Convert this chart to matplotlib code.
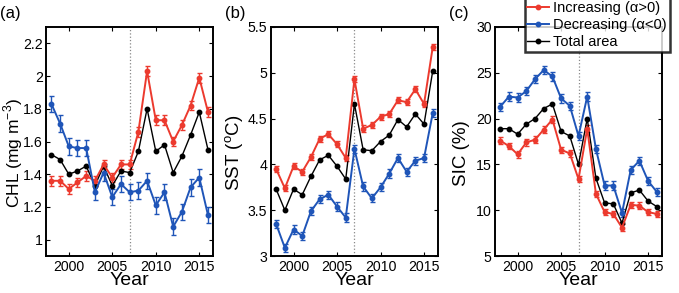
import matplotlib
matplotlib.use('Agg')
from matplotlib import pyplot as plt
from matplotlib.ticker import FormatStrFormatter
from matplotlib.lines import Line2D
import numpy as np

plt.rcParams['font.family'] = ['Liberation Sans', 'DejaVu Sans']
plt.rcParams['mathtext.fontset'] = 'custom'
plt.rcParams['mathtext.rm'] = 'Liberation Sans'

years = np.arange(1998, 2017)

# (a) CHL
chl_inc = [1.36, 1.36, 1.31, 1.35, 1.39, 1.36, 1.46, 1.38, 1.46, 1.46,
           1.66, 2.03, 1.73, 1.73, 1.60, 1.70, 1.82, 1.99, 1.78]
chl_dec = [1.83, 1.71, 1.57, 1.56, 1.56, 1.29, 1.41, 1.26, 1.34, 1.29,
           1.30, 1.36, 1.21, 1.29, 1.08, 1.17, 1.32, 1.38, 1.15]
chl_tot = [1.52, 1.49, 1.40, 1.42, 1.45, 1.33, 1.45, 1.33, 1.42, 1.41,
           1.54, 1.80, 1.54, 1.58, 1.41, 1.51, 1.64, 1.78, 1.55]

# (b) SST
sst_inc = [3.95, 3.74, 3.98, 3.92, 4.08, 4.28, 4.33, 4.22, 4.07, 4.93,
           4.39, 4.43, 4.52, 4.55, 4.70, 4.68, 4.82, 4.66, 5.28]
sst_dec = [3.35, 3.09, 3.29, 3.22, 3.49, 3.62, 3.67, 3.54, 3.42, 4.17,
           3.76, 3.63, 3.75, 3.90, 4.07, 3.92, 4.04, 4.07, 4.56]
sst_tot = [3.73, 3.50, 3.73, 3.67, 3.87, 4.05, 4.10, 3.98, 3.84, 4.66,
           4.16, 4.15, 4.25, 4.32, 4.49, 4.41, 4.55, 4.44, 5.02]

# (c) SIC
sic_inc = [17.6, 17.0, 16.1, 17.4, 17.7, 18.8, 19.9, 16.6, 16.2, 13.4,
           18.9, 11.8, 9.8, 9.6, 8.1, 10.6, 10.5, 9.8, 9.6]
sic_dec = [21.3, 22.4, 22.3, 23.0, 24.3, 25.3, 24.6, 22.2, 21.4, 18.1,
           22.4, 16.7, 12.7, 12.7, 9.7, 14.4, 15.4, 13.2, 12.0]
sic_tot = [18.9, 18.9, 18.3, 19.4, 20.0, 21.1, 21.6, 18.6, 18.1, 15.0,
           20.0, 13.5, 10.8, 10.7, 8.6, 11.9, 12.2, 11.0, 10.4]

# error bar half widths (inc, dec)
chl_err = (0.03, 0.05)
sst_err = (0.035, 0.045)
sic_err = (0.35, 0.45)

panels = [
    ('(a)', 'CHL (mg m$^{-3}$)', chl_inc, chl_dec, chl_tot, chl_err, (0.9, 2.3), [1, 1.2, 1.4, 1.6, 1.8, 2, 2.2]),
    ('(b)', 'SST ($^{\\rm o}$C)', sst_inc, sst_dec, sst_tot, sst_err, (3, 5.5), [3, 3.5, 4, 4.5, 5, 5.5]),
    ('(c)', 'SIC (%)', sic_inc, sic_dec, sic_tot, sic_err, (5, 30), [5, 10, 15, 20, 25, 30]),
]
legend_labels = ['Increasing (\u03b1>0)', 'Decreasing (\u03b1<0)', 'Total area']

red = '#ec3a2e'
blue = '#1f55b8'
lefts = [0.068, 0.399, 0.729]
label_x = [-0.2, -0.215, -0.2]   # y label positions (axes fraction)
label_fs = [12.5, 13.5, 13.5]

fig = plt.figure(figsize=(6.79, 2.93), dpi=100)
for k, (tag, ylab, inc, dec, tot, err, ylim, yt) in enumerate(panels):
    ax = fig.add_axes([lefts[k], 0.126, 0.246, 0.782])
    ax.axvline(2007, color='#888888', ls=':', lw=0.9, zorder=0)
    ax.errorbar(years, inc, yerr=err[0], color=red, marker='o', ms=3.2,
                lw=1.4, capsize=1.8, elinewidth=1.0)
    ax.errorbar(years, dec, yerr=err[1], color=blue, marker='o', ms=3.2,
                lw=1.4, capsize=1.8, elinewidth=1.0)
    ax.plot(years, tot, color='black', marker='o', ms=3.2, lw=1.0)
    ax.set_xlim(1997.4, 2016.6)
    ax.set_ylim(*ylim)
    ax.set_yticks(yt)
    ax.yaxis.set_major_formatter(FormatStrFormatter('%g'))
    ax.set_xticks([2000, 2005, 2010, 2015])
    ax.tick_params(direction='in', top=True, right=True, labelsize=10.2, length=3, width=0.8, pad=2.5)
    for s in ax.spines.values():
        s.set_linewidth(1.4)
    ax.set_xlabel('Year', fontsize=14, labelpad=-1)
    ax.set_ylabel(ylab, fontsize=label_fs[k], va='center')
    ax.yaxis.set_label_coords(label_x[k], 0.45)
    fig.text(lefts[k] - 0.068, 0.955, tag, fontsize=12, va='center', ha='left')
    if k == 2:
        handles = [Line2D([], [], color=c, marker='o', ms=3.2, lw=1.4 if c != 'black' else 1.0)
                   for c in (red, blue, 'black')]
        leg = ax.legend(handles, legend_labels, loc='upper right', bbox_to_anchor=(1.045, 1.125),
                        fontsize=10.5, frameon=True, fancybox=False, borderpad=0.2,
                        labelspacing=0.2, handlelength=1.5, handletextpad=0.25,
                        borderaxespad=0)
        leg.get_frame().set_edgecolor('black')
        leg.get_frame().set_linewidth(1.8)
        leg.set_zorder(10)

fig.savefig('out.png', dpi=100)
